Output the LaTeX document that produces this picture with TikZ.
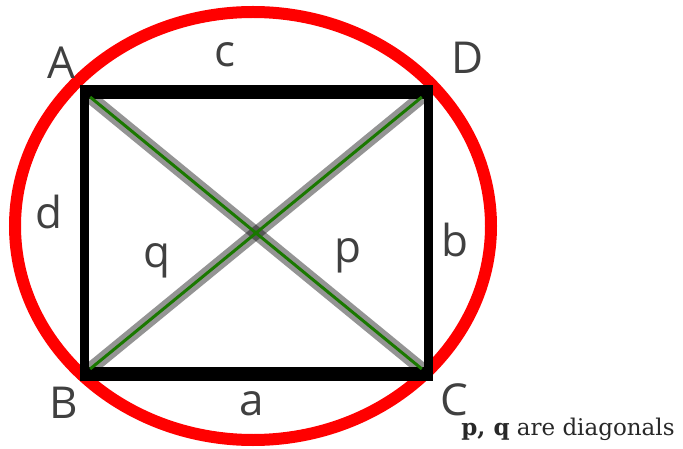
\documentclass[tikz,border=0pt]{standalone}
\usepackage{fontspec}
\usepackage{tikz}
\setsansfont{Open Sans}
\newfontfamily\notefont{DejaVu Serif}
\definecolor{ringRed}{RGB}{255,0,0}
\definecolor{labelGray}{RGB}{64,64,64}
\definecolor{noteGray}{RGB}{40,40,40}
\definecolor{diagGreen}{RGB}{26,120,0}
\tikzset{
  corner label/.style={font=\sffamily\fontsize{44}{50}\selectfont, text=labelGray, anchor=base, inner sep=0pt},
  side line/.style={line width=9pt},
  top line/.style={line width=14pt},
  diag shade/.style={draw=black, draw opacity=0.42, line width=13pt, shorten <=8pt, shorten >=8pt},
  diag line/.style={draw=diagGreen, line width=3pt, shorten <=8pt, shorten >=8pt}
}

\begin{document}
\begin{tikzpicture}[x=1pt,y=-1pt]

\useasboundingbox (0,0) rectangle (683,449);

%
\draw[ringRed, line width=12pt] (253,226) ellipse [x radius=238, y radius=214];

%
\coordinate (A) at (84,92);
\coordinate (D) at (428,92);
\coordinate (B) at (84,374);
\coordinate (C) at (428,374);

%
\draw[side line] (A) -- (B);
\draw[side line] (D) -- (C);
\draw[top line] ([xshift=-4.5pt]A) -- ([xshift=4.5pt]D);
\draw[top line] ([xshift=-4.5pt]B) -- ([xshift=4.5pt]C);

%
\draw[diag shade] (A) -- (C);
\draw[diag shade] (D) -- (B);
\draw[diag line] (A) -- (C);
\draw[diag line] (D) -- (B);

%
\node[corner label] (labA) at (61,79) {A};
\node[corner label] (labD) at (468,74) {D};
\node[corner label] (labB) at (64,418) {B};
\node[corner label] (labC) at (454,415) {C};
\node[corner label] (labc) at (225,67) {c};
\node[corner label] (labd) at (49,229) {d};
\node[corner label] (labb) at (455,257) {b};
\node[corner label] (laba) at (252,415) {a};
\node[corner label] (labq) at (157,268) {q};
\node[corner label] (labp) at (348,263) {p};

%
\node[anchor=base, inner sep=0pt, text=noteGray, font=\notefont\fontsize{23}{26}\selectfont] (note) at (568,435)
{\textbf{p, q} are diagonals};

\end{tikzpicture}
\end{document}
